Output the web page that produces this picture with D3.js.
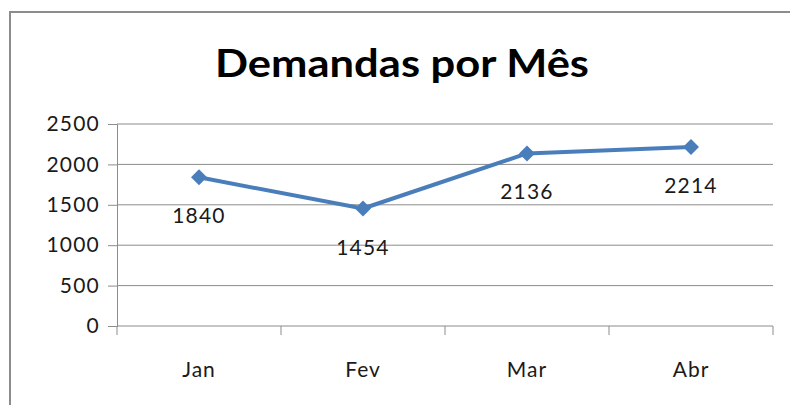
<!DOCTYPE html>
<html>
<head>
<meta charset="utf-8">
<script src="https://cdn.jsdelivr.net/npm/d3@7"></script>
<style>
  body { margin: 0; background: #fff; }
  text { font-family: Lato, "Open Sans", sans-serif; fill: #1a1a1a; }
</style>
</head>
<body>
<div id="chart"></div>
<script>
// data
const months = ["Jan", "Fev", "Mar", "Abr"];
const demandas = [1840, 1454, 2136, 2214];
const yTicks = [0, 500, 1000, 1500, 2000, 2500];
const title = "Demandas por Mês";

// svg container
const svgWidth = 790, svgHeight = 405;
const margin = { top: 124, right: 17, bottom: 79, left: 117 };
const chartWidth = svgWidth - margin.left - margin.right;
const chartHeight = svgHeight - margin.top - margin.bottom;

const svg = d3.select("#chart").append("svg")
  .attr("width", svgWidth)
  .attr("height", svgHeight);

// outer chart border
svg.append("rect")
  .attr("x", 10).attr("y", 12)
  .attr("width", 800).attr("height", 420)
  .attr("fill", "none")
  .attr("stroke", "#8c8c8c")
  .attr("stroke-width", 2);

// title
svg.append("text")
  .attr("x", 402).attr("y", 77)
  .attr("text-anchor", "middle")
  .attr("textLength", 374)
  .attr("lengthAdjust", "spacingAndGlyphs")
  .style("font-size", "39px")
  .style("font-weight", "bold")
  .style("fill", "#000")
  .text(title);

const chartGroup = svg.append("g")
  .attr("transform", `translate(${margin.left}, ${margin.top})`);

// scales
const yScale = d3.scaleLinear()
  .domain([0, 2500])
  .range([chartHeight, 0]);

const xScale = d3.scaleBand()
  .domain(months)
  .range([0, chartWidth]);

// gridlines
chartGroup.append("g")
  .selectAll("line")
  .data(yTicks.slice(1))
  .enter().append("line")
  .attr("x1", 0).attr("x2", chartWidth)
  .attr("y1", d => yScale(d)).attr("y2", d => yScale(d))
  .attr("stroke", "#8c8c8c")
  .attr("stroke-width", 1);

// y axis
const yAxis = d3.axisLeft(yScale)
  .tickValues(yTicks)
  .tickFormat(d3.format("d"))
  .tickSize(9)
  .tickPadding(8);
const yG = chartGroup.append("g").call(yAxis);
yG.select(".domain").attr("stroke", "#8c8c8c");
yG.selectAll(".tick line").attr("stroke", "#8c8c8c");
yG.selectAll(".tick text")
  .style("font-size", "21px")
  .style("font-family", "Lato, sans-serif")
  .style("letter-spacing", "1.2px")
  .attr("fill", "#1a1a1a");

// x axis with ticks on band boundaries
const xG = chartGroup.append("g").attr("transform", `translate(0, ${chartHeight})`);
xG.append("line")
  .attr("x1", 0).attr("x2", chartWidth)
  .attr("stroke", "#8c8c8c");
xG.selectAll(".xtick")
  .data(months.concat(["end"]))
  .enter().append("line")
  .attr("x1", (d, i) => i < months.length ? xScale(d) : chartWidth)
  .attr("x2", (d, i) => i < months.length ? xScale(d) : chartWidth)
  .attr("y1", 0).attr("y2", 9)
  .attr("stroke", "#8c8c8c");
xG.selectAll(".xlabel")
  .data(months)
  .enter().append("text")
  .attr("x", d => xScale(d) + xScale.bandwidth() / 2)
  .attr("y", 51)
  .attr("text-anchor", "middle")
  .style("font-size", "21px")
  .style("letter-spacing", "1px")
  .text(d => d);

// line
const cx = (d, i) => xScale(months[i]) + xScale.bandwidth() / 2;
const line = d3.line()
  .x(cx)
  .y(d => yScale(d));

chartGroup.append("path")
  .datum(demandas)
  .attr("d", line)
  .attr("fill", "none")
  .attr("stroke", "#4a7ebb")
  .attr("stroke-width", 4)
  .attr("stroke-linejoin", "round");

// diamond markers
chartGroup.selectAll(".marker")
  .data(demandas)
  .enter().append("path")
  .attr("d", "M0,-8L8,0L0,8L-8,0Z")
  .attr("transform", (d, i) => `translate(${cx(d, i)}, ${yScale(d)})`)
  .attr("fill", "#4a7ebb");

// data labels below points
chartGroup.selectAll(".label")
  .data(demandas)
  .enter().append("text")
  .attr("x", cx)
  .attr("y", d => yScale(d) + 46)
  .attr("text-anchor", "middle")
  .style("font-size", "21px")
  .style("letter-spacing", "1.2px")
  .text(d => d);
</script>
</body>
</html>
